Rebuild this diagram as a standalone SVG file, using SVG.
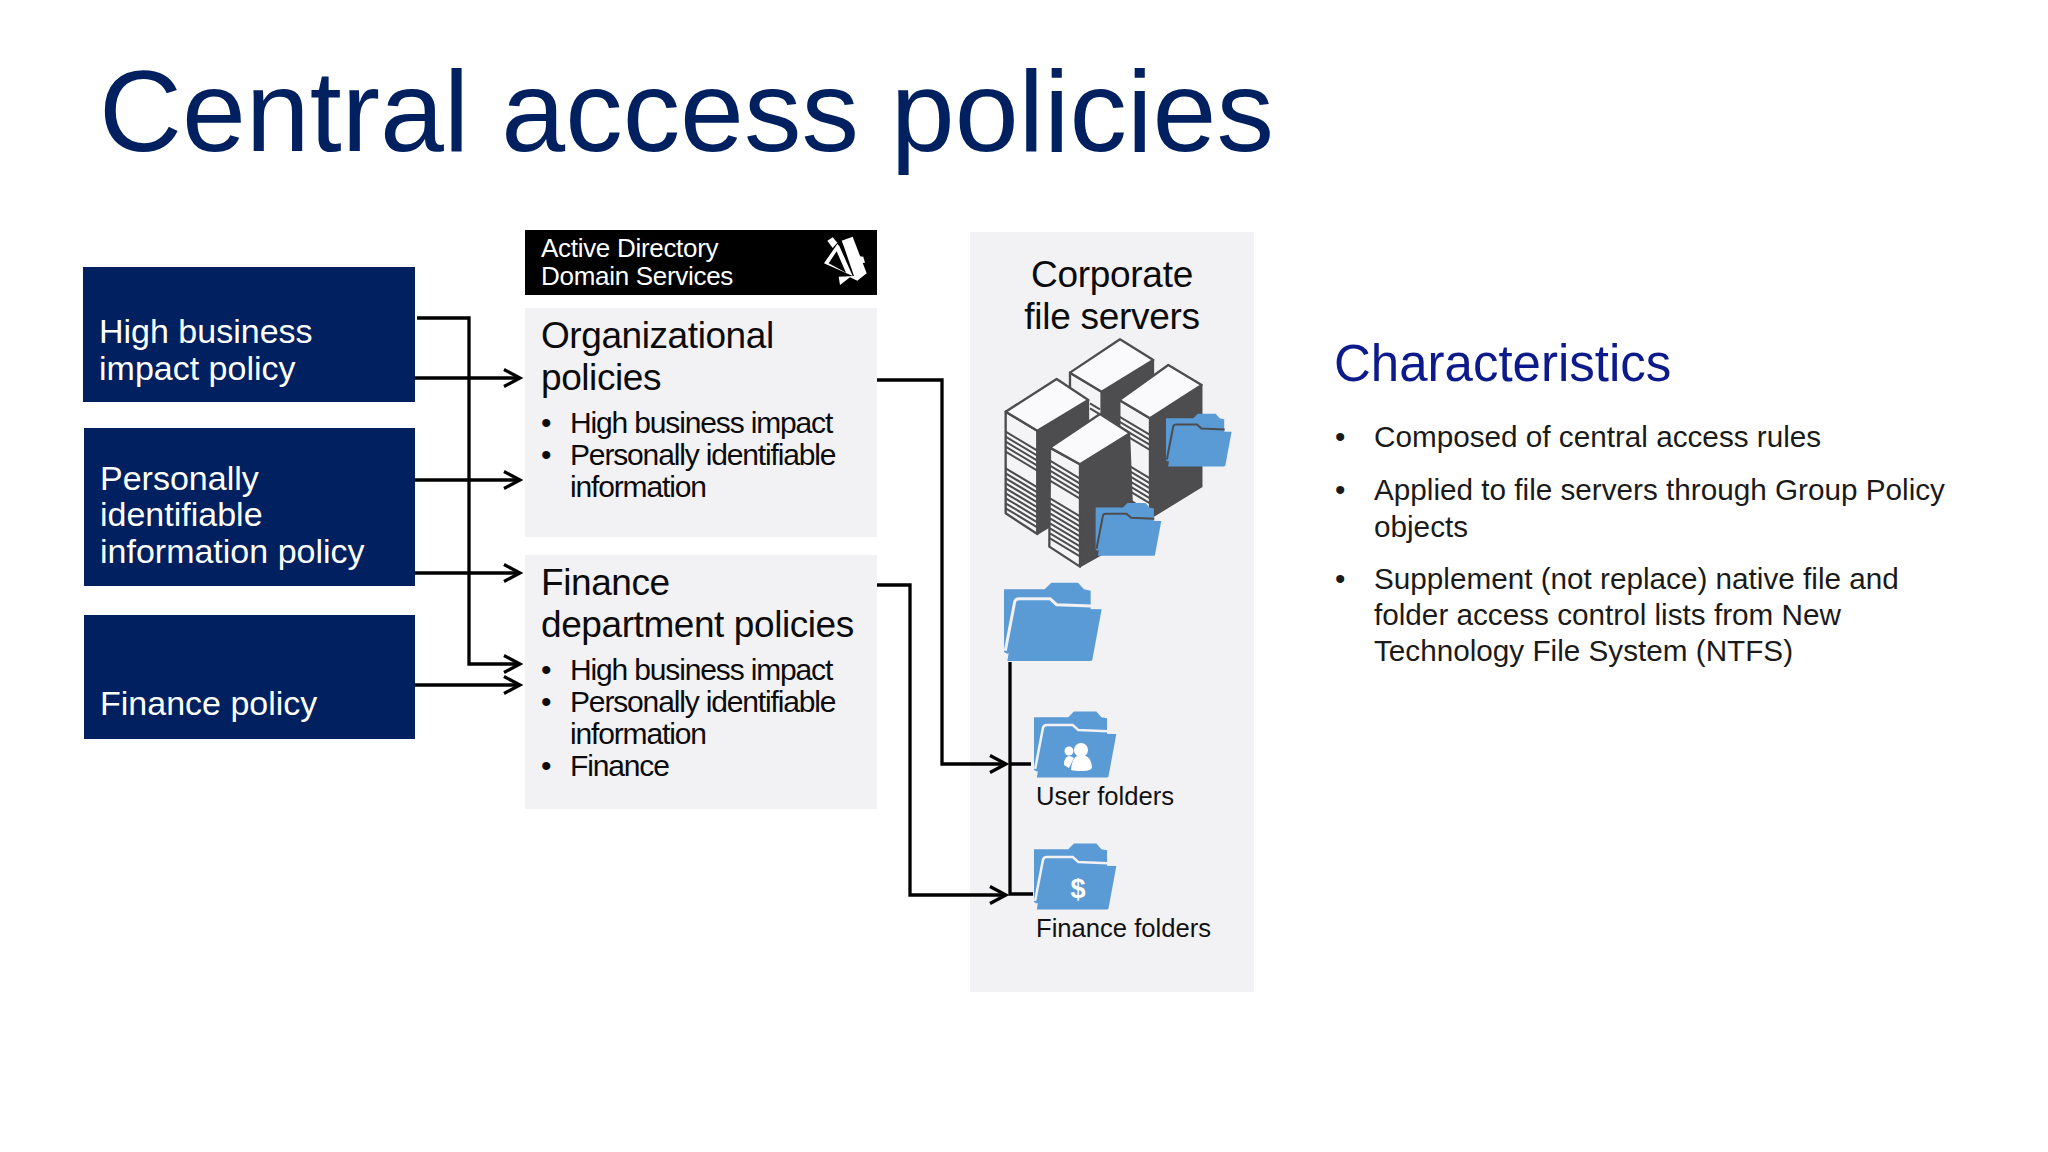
<svg xmlns="http://www.w3.org/2000/svg" xmlns:xlink="http://www.w3.org/1999/xlink" width="2048" height="1152" viewBox="0 0 2048 1152">
<style>
text{font-family:"Liberation Sans",Arial,sans-serif}
.pol{fill:#002060}
.polt{fill:#fff;font-size:34px}
.panel{fill:#f2f1f4}
.h{font-size:37px;letter-spacing:-.42px;fill:#0b0b0b}
.b{font-size:30px;letter-spacing:-1.15px;fill:#0b0b0b}
.r{font-size:29.700px;fill:#1a1a1a}
.f{font-size:25.600px;fill:#111}
.ad{font-size:26px;letter-spacing:-.3px;fill:#fff}
.ln{fill:none;stroke:#000;stroke-width:3.300}
.top{fill:#fafafc;stroke:#4d4d4f;stroke-width:7;stroke-linejoin:round}
.side{fill:#4d4d4f;stroke:#4d4d4f;stroke-width:5;stroke-linejoin:round}
.front{fill:#f4f4f6;stroke:#4d4d4f;stroke-width:7;stroke-linejoin:round}
.st{fill:none;stroke:#4d4d4f;stroke-width:6}
</style>
<defs>
<marker id="ah" markerUnits="userSpaceOnUse" markerWidth="22" markerHeight="22" refX="18" refY="10" orient="auto" overflow="visible">
<path d="M2 1.500L18 10L2 18.500" fill="none" stroke="#000" stroke-width="3.200"/>
</marker>
<g id="folder">
<path d="M0 22L122 22L142 2L222 2L240 22L260 26L260 120L10 215L0 210Z" fill="#5b9bd5"/>
<path d="M4 206L32 60Q34 50 46 50L138 50L158 68L262 72" fill="none" stroke="currentColor" stroke-width="9"/>
<path d="M40 62L136 60L156 80L293 82L265 233Q264 237 258 237L10 237Z" fill="#5b9bd5"/>
</g>
</defs>
<rect width="2048" height="1152" fill="#fff"/>
<text x="99" y="151" font-size="114.900" fill="#002060">Central access policies</text>

<g id="policy-high">
<rect class="pol" x="83" y="267" width="332" height="135"/>
<text class="polt"><tspan x="99" y="343">High business</tspan><tspan x="99" y="380">impact policy</tspan></text>
</g>
<g id="policy-pii">
<rect class="pol" x="84" y="428" width="331" height="158"/>
<text class="polt"><tspan x="100" y="490">Personally</tspan><tspan x="100" y="526">identifiable</tspan><tspan x="100" y="563">information policy</tspan></text>
</g>
<g id="policy-finance">
<rect class="pol" x="84" y="615" width="331" height="124"/>
<text class="polt" x="100" y="715">Finance policy</text>
</g>

<g id="ad-header">
<rect x="525" y="230" width="352" height="65" fill="#000"/>
<text class="ad" x="541" y="257">Active Directory</text>
<text class="ad" x="541" y="285">Domain Services</text>
<g transform="translate(780 220) scale(.3333)" fill="#fff">
<path d="M172 72L132 130L218 168L178 78ZM170 94L198 158L146 130Z" fill-rule="evenodd"/>
<path d="M142 62L158 52L172 68L158 84Z"/>
<path d="M185 62L218 50L260 160L232 182L210 172L180 195L176 170L222 168L192 80Z"/>
<path d="M210 105L250 110L255 128L225 132Z"/>
</g>
</g>
<g id="org-policies">
<rect class="panel" x="525" y="308" width="352" height="229"/>
<text class="h"><tspan x="541" y="348">Organizational</tspan><tspan x="541" y="390">policies</tspan></text>
<text class="b"><tspan x="541" y="433">•</tspan><tspan x="570" y="433">High business impact</tspan><tspan x="541" y="465">•</tspan><tspan x="570" y="465">Personally identifiable</tspan><tspan x="570" y="497">information</tspan></text>
</g>
<g id="finance-policies">
<rect class="panel" x="525" y="555" width="352" height="254"/>
<text class="h"><tspan x="541" y="595">Finance</tspan><tspan x="541" y="637">department policies</tspan></text>
<text class="b"><tspan x="541" y="680">•</tspan><tspan x="570" y="680">High business impact</tspan><tspan x="541" y="712">•</tspan><tspan x="570" y="712">Personally identifiable</tspan><tspan x="570" y="744">information</tspan><tspan x="541" y="776">•</tspan><tspan x="570" y="776">Finance</tspan></text>
</g>

<g id="file-servers">
<rect class="panel" x="970" y="232" width="284" height="760"/>
<text class="h" text-anchor="middle" style="letter-spacing:-.3px"><tspan x="1112" y="287">Corporate</tspan><tspan x="1112" y="329">file servers</tspan></text>
<g transform="translate(960 220) scale(.3333)">
<path class="front" d="M330 458L425 515L425 640L330 600Z"/>
<path class="side" d="M425 515L580 420L580 700L425 700Z"/>
<path class="top" d="M480 358L580 420L425 515L330 458Z"/>
<path class="st" d="M390 550l30 18m-30 -3l30 18"/>
<path class="front" d="M478 540L570 595L570 880L478 820Z"/>
<path class="side" d="M570 595L725 495L725 800L570 895Z"/>
<path class="top" d="M625 435L725 495L570 595L478 540Z"/>
<path class="st" d="M478 590l92 55m-92 -40l92 55m-92 -40l92 55m-92 -40l92 55M478 720l92 55m-92 -40l92 55m-92 -40l92 55m-92 -40l92 55m-92 -40l92 55m-92 -40l92 55"/>
<path class="front" d="M137 575L232 632L232 942L137 880Z"/>
<path class="side" d="M232 632L385 540L385 850L232 942Z"/>
<path class="top" d="M290 477L385 540L232 632L137 575Z"/>
<path class="st" d="M137 635l95 57m-95 -42l95 57m-95 -42l95 57m-95 -42l95 57m-95 -42l95 57M137 745l95 57m-95 -42l95 57m-95 -42l95 57m-95 -42l95 57m-95 -42l95 57m-95 -42l95 57m-95 -42l95 57m-95 -42l95 57m-95 -42l95 57"/>
<path class="front" d="M270 683L360 733L360 1040L268 980Z"/>
<path class="side" d="M360 733L508 640L520 950L360 1040Z"/>
<path class="top" d="M420 582L510 640L360 733L270 683Z"/>
<path class="st" d="M270 722l90 54m-90 -39l90 54m-90 -39l90 54m-90 -39l90 54m-90 -39l90 54M270 835l90 54m-90 -39l90 54m-90 -39l90 54m-90 -39l90 54m-90 -39l90 54m-90 -39l90 54m-90 -39l90 54m-90 -39l90 54m-90 -39l90 54"/>
<use xlink:href="#folder" href="#folder" transform="translate(618 580) scale(.672)" color="#4d4d4f"/>
<use xlink:href="#folder" href="#folder" transform="translate(407 848) scale(.672)" color="#4d4d4f"/>
</g>
</g>
<g id="folder-root"><use xlink:href="#folder" href="#folder" transform="translate(1004 582) scale(.3333)" color="#f2f1f4"/></g>
<g id="folder-user">
<use xlink:href="#folder" href="#folder" transform="translate(1034 711) scale(.281)" color="#f2f1f4"/>
<g fill="#fff"><circle cx="1081" cy="750" r="7"/><path d="M1071 770Q1072 755 1081 755Q1091 755 1092 767Q1092 771 1082 771Q1074 771 1071 770Z"/><circle cx="1069" cy="751" r="4.500"/><path d="M1064 765Q1064 756 1070 756L1074 758L1069 768Z"/></g>
<text class="f" x="1036" y="805">User folders</text>
</g>
<g id="folder-finance">
<use xlink:href="#folder" href="#folder" transform="translate(1034 843) scale(.281)" color="#f2f1f4"/>
<text x="1078" y="898" font-size="27" font-weight="bold" fill="#fff" text-anchor="middle">$</text>
<text class="f" x="1036" y="937">Finance folders</text>
</g>

<g id="connectors">
<path class="ln" d="M417 318H469V664H520" marker-end="url(#ah)"/>
<path class="ln" d="M415 378H520" marker-end="url(#ah)"/>
<path class="ln" d="M415 480H520" marker-end="url(#ah)"/>
<path class="ln" d="M415 573H520" marker-end="url(#ah)"/>
<path class="ln" d="M415 685H520" marker-end="url(#ah)"/>
<path class="ln" d="M877 380H942V764H1006" marker-end="url(#ah)"/>
<path class="ln" d="M877 585H910V895H1006" marker-end="url(#ah)"/>
<path class="ln" d="M1010 662V894H1033M1010 764H1031"/>
</g>

<g id="characteristics">
<text x="1334" y="381" font-size="51" fill="#0d1a8c">Characteristics</text>
<text class="r"><tspan x="1335" y="447">•</tspan><tspan x="1374" y="447">Composed of central access rules</tspan><tspan x="1335" y="500">•</tspan><tspan x="1374" y="500">Applied to file servers through Group Policy</tspan><tspan x="1374" y="537">objects</tspan><tspan x="1335" y="589">•</tspan><tspan x="1374" y="589">Supplement (not replace) native file and</tspan><tspan x="1374" y="625">folder access control lists from New</tspan><tspan x="1374" y="661">Technology File System (NTFS)</tspan></text>
</g>
</svg>
